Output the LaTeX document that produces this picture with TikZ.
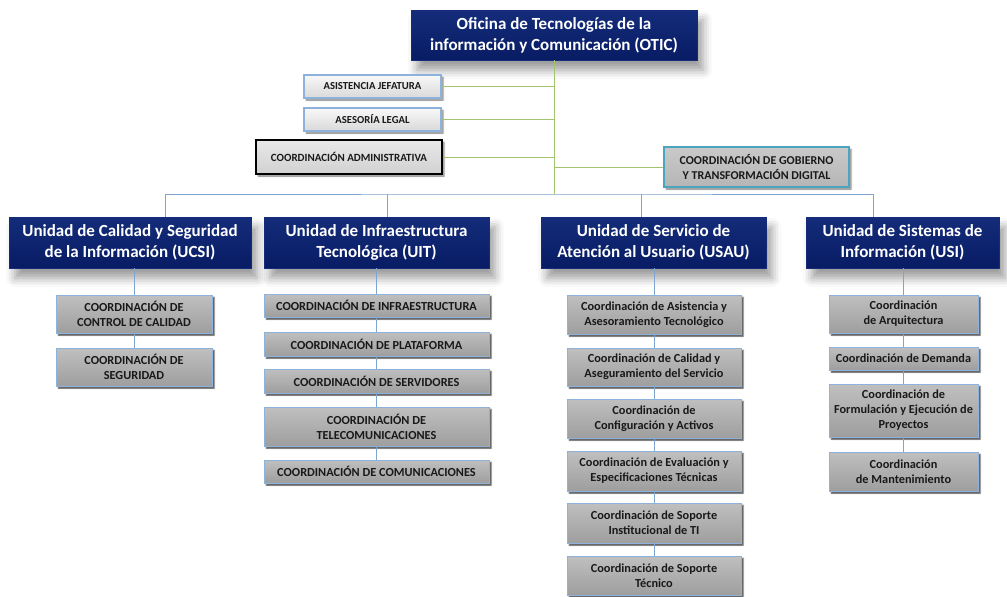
\documentclass[tikz,border=0pt]{standalone}
\usepackage{fontspec}
\setmainfont{Carlito}
\usetikzlibrary{shadows.blur}

\definecolor{navy}{RGB}{8,28,100}
\definecolor{navytop}{RGB}{20,44,122}
\definecolor{staffgreen}{RGB}{163,196,110}
\definecolor{busblue}{RGB}{125,165,205}
\definecolor{boxrim}{RGB}{141,179,220}
\definecolor{govrim}{RGB}{75,165,190}
\definecolor{inkgray}{RGB}{25,25,25}

\begin{document}
\begin{tikzpicture}[x=1pt,y=-1pt,
    unit/.style={shape=rectangle, minimum width=#1, minimum height=51,
        top color=navytop, bottom color=navy, draw=navytop, text=white,
        align=center, font=\bfseries\fontsize{17}{21}\selectfont,
        blur shadow={shadow xshift=6pt, shadow yshift=-10pt,
          shadow blur radius=9pt, shadow opacity=40}},
    staff/.style={shape=rectangle, minimum width=#1, minimum height=23,
        top color=gray!5, bottom color=gray!30, draw=boxrim,
        line width=1.4pt, text=inkgray, align=center, inner sep=2pt,
        font=\bfseries\fontsize{10.7}{14}\selectfont,
        blur shadow={shadow xshift=2pt, shadow yshift=-2pt,
          shadow blur radius=1.5pt, shadow opacity=50}},
    subbox/.style={shape=rectangle, minimum width=#1,
        top color=gray!50, middle color=gray!66, bottom color=gray!76,
        draw=boxrim, line width=0.6pt, text=inkgray, align=center,
        inner sep=2pt, font=\bfseries\fontsize{12.3}{15}\selectfont,
        blur shadow={shadow xshift=2.2pt, shadow yshift=-2.2pt,
          shadow blur radius=1.2pt, shadow opacity=75}},
    staffline/.style={draw=staffgreen, line width=0.7pt},
    busline/.style={draw=busblue, line width=0.7pt}]
  \useasboundingbox (0,0) rectangle (1007,597);

  \node[unit=286, minimum height=50, name=otic] at (554,35)
    {Oficina de Tecnologías de la\\información y Comunicación (OTIC)};
  \node[staff=137, name=asis] at (372.5,86.5) {ASISTENCIA JEFATURA};
  \node[staff=137, name=legal] at (372.5,119.5) {ASESORÍA LEGAL};
  \node[staff=186, minimum height=34, draw=black, top color=gray!18,
    bottom color=gray!36, font=\bfseries\fontsize{11}{14}\selectfont,
    name=admin] at (349,157) {COORDINACIÓN ADMINISTRATIVA};
  \node[staff=185, minimum height=40, draw=govrim, top color=gray!42,
    bottom color=gray!58, font=\bfseries\fontsize{12}{15}\selectfont,
    name=gob] at (756.5,167)
    {COORDINACIÓN DE GOBIERNO\\Y TRANSFORMACIÓN DIGITAL};
  \coordinate (bus) at (554,194);

  \node[unit=242, name=ucsi] at (130,242.5)
    {Unidad de Calidad y Seguridad\\de la Información (UCSI)};
  \node[unit=225, name=uit] at (376.5,242.5)
    {Unidad de Infraestructura\\Tecnológica (UIT)};
  \node[unit=225, name=usau] at (653.5,242.5)
    {Unidad de Servicio de\\Atención al Usuario (USAU)};
  \node[unit=193, name=usi] at (902.5,242.5)
    {Unidad de Sistemas de\\Información (USI)};

  \node[subbox=156, minimum height=38, name=ucsi1] at (134,314)
    {COORDINACIÓN DE\\CONTROL DE CALIDAD};
  \node[subbox=156, minimum height=38, name=ucsi2] at (134,367)
    {COORDINACIÓN DE\\SEGURIDAD};

  \node[subbox=225, minimum height=23, name=uit1] at (376.5,305.5)
    {COORDINACIÓN DE INFRAESTRUCTURA};
  \node[subbox=225, minimum height=24, name=uit2] at (376.5,344)
    {COORDINACIÓN DE PLATAFORMA};
  \node[subbox=225, minimum height=24, name=uit3] at (376.5,381)
    {COORDINACIÓN DE SERVIDORES};
  \node[subbox=225, minimum height=39, name=uit4] at (376.5,426.5)
    {COORDINACIÓN DE\\TELECOMUNICACIONES};
  \node[subbox=225, minimum height=23, name=uit5] at (376.5,471.5)
    {COORDINACIÓN DE COMUNICACIONES};

  \node[subbox=174, minimum height=39, name=usau1] at (654,314.5)
    {Coordinación de Asistencia y\\Asesoramiento Tecnológico};
  \node[subbox=174, minimum height=38, name=usau2] at (654,367)
    {Coordinación de Calidad y\\Aseguramiento del Servicio};
  \node[subbox=174, minimum height=39, name=usau3] at (654,418.5)
    {Coordinación de\\Configuración y Activos};
  \node[subbox=174, minimum height=40, name=usau4] at (654,471)
    {Coordinación de Evaluación y\\Especificaciones Técnicas};
  \node[subbox=174, minimum height=40, name=usau5] at (654,523)
    {Coordinación de Soporte\\Institucional de TI};
  \node[subbox=174, minimum height=39, name=usau6] at (654,575.5)
    {Coordinación de Soporte\\Técnico};

  \node[subbox=149, minimum height=38, name=usi1] at (903.5,314)
    {Coordinación\\de Arquitectura};
  \node[subbox=149, minimum height=23, name=usi2] at (903.5,358.5)
    {Coordinación de Demanda};
  \node[subbox=149, minimum height=53, name=usi3] at (903.5,410.5)
    {Coordinación de\\Formulación y Ejecución de\\Proyectos};
  \node[subbox=149, minimum height=39, name=usi4] at (903.5,471.5)
    {Coordinación\\de Mantenimiento};

  \draw[staffline] (otic.south) -- (bus);
  \draw[staffline] (asis.east) -- (asis.east -| bus);
  \draw[staffline] (legal.east) -- (legal.east -| bus);
  \draw[staffline] (admin.east) -- (admin.east -| bus);
  \draw[staffline] (gob.west) -- (gob.west -| bus);
  \draw[busline] ([xshift=35]ucsi.north) |- (bus)
    -| ([xshift=-29.5]usi.north);
  \draw[busline] ([xshift=10.5]uit.north) -- ([xshift=10.5]uit.north |- bus);
  \draw[busline] ([xshift=-12.5]usau.north) -- ([xshift=-12.5]usau.north |- bus);
  \draw[busline] (ucsi1.north |- ucsi.south) -- (ucsi1.north);
  \draw[busline] (ucsi1) -- (ucsi2);
  \draw[busline] (uit1.north |- uit.south) -- (uit1.north);
  \draw[busline] (uit1) -- (uit2) (uit2) -- (uit3) (uit3) -- (uit4)
    (uit4) -- (uit5);
  \draw[busline] (usau1.north |- usau.south) -- (usau1.north);
  \draw[busline] (usau1) -- (usau2) (usau2) -- (usau3) (usau3) -- (usau4)
    (usau4) -- (usau5) (usau5) -- (usau6);
  \draw[busline] (usi1.north |- usi.south) -- (usi1.north);
  \draw[busline] (usi1) -- (usi2) (usi2) -- (usi3) (usi3) -- (usi4);
\end{tikzpicture}
\end{document}
